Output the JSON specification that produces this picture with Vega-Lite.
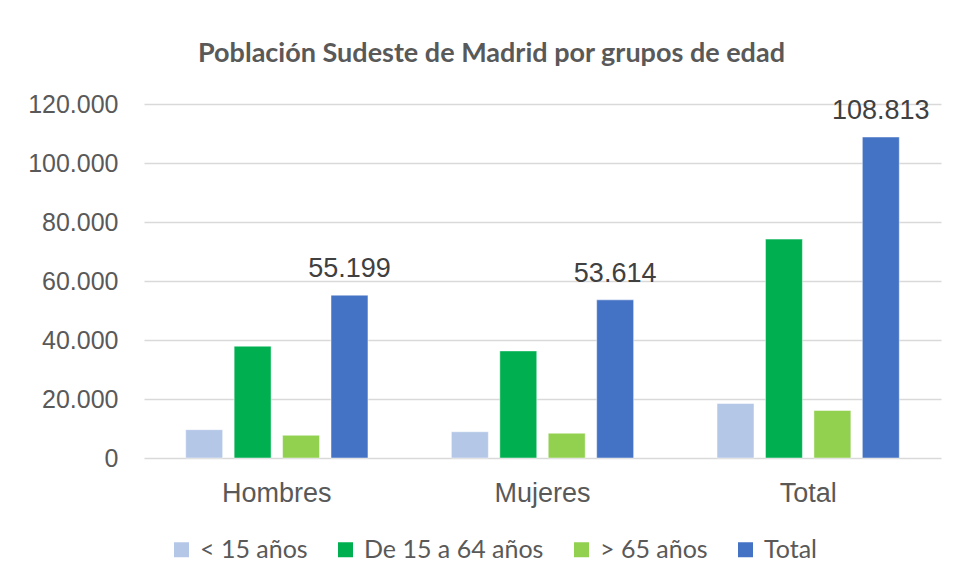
{
  "$schema": "https://vega.github.io/schema/vega-lite/v6.json",
  "width": 797,
  "height": 354,
  "autosize": {"type": "none"},
  "padding": {"left": 144, "top": 104, "right": 14, "bottom": 123},
  "background": "white",
  "config": {
    "locale": {"number": {"decimal": ",", "thousands": ".", "grouping": [3], "currency": ["", " €"]}},
    "view": {"stroke": null}
  },
  "title": {
    "text": "Población Sudeste de Madrid por grupos de edad",
    "font": "Lato",
    "fontSize": 27,
    "fontWeight": "bold",
    "color": "#595959",
    "offset": 24,
    "dx": -51,
    "anchor": "middle"
  },
  "data": {
    "values": [
      {"grupo": "Hombres", "edad": "< 15 años", "valor": 9600},
      {"grupo": "Hombres", "edad": "De 15 a 64 años", "valor": 37900},
      {"grupo": "Hombres", "edad": "> 65 años", "valor": 7700},
      {"grupo": "Hombres", "edad": "Total", "valor": 55199},
      {"grupo": "Mujeres", "edad": "< 15 años", "valor": 8900},
      {"grupo": "Mujeres", "edad": "De 15 a 64 años", "valor": 36300},
      {"grupo": "Mujeres", "edad": "> 65 años", "valor": 8400},
      {"grupo": "Mujeres", "edad": "Total", "valor": 53614},
      {"grupo": "Total", "edad": "< 15 años", "valor": 18500},
      {"grupo": "Total", "edad": "De 15 a 64 años", "valor": 74200},
      {"grupo": "Total", "edad": "> 65 años", "valor": 16100},
      {"grupo": "Total", "edad": "Total", "valor": 108813}
    ]
  },
  "encoding": {
    "x": {
      "field": "grupo",
      "type": "nominal",
      "sort": ["Hombres", "Mujeres", "Total"],
      "scale": {"paddingInner": 0, "paddingOuter": 0},
      "axis": {
        "title": null,
        "labelAngle": 0,
        "ticks": false,
        "domain": false,
        "labelFont": "Liberation Sans",
        "labelFontSize": 27,
        "labelColor": "#595959",
        "labelPadding": 22
      }
    },
    "xOffset": {
      "field": "edad",
      "type": "nominal",
      "sort": ["< 15 años", "De 15 a 64 años", "> 65 años", "Total"],
      "scale": {"paddingInner": 0.237, "paddingOuter": 0.861}
    },
    "y": {
      "field": "valor",
      "type": "quantitative",
      "scale": {"domain": [0, 120000]},
      "axis": {
        "title": null,
        "values": [0, 20000, 40000, 60000, 80000, 100000, 120000],
        "format": ",d",
        "ticks": false,
        "domain": false,
        "labelFont": "Liberation Sans",
        "labelFontSize": 25,
        "labelColor": "#595959",
        "labelPadding": 26,
        "gridColor": "#D9D9D9",
        "gridWidth": 1.3
      }
    }
  },
  "layer": [
    {
      "mark": {"type": "bar", "stroke": "white", "strokeWidth": 0.8, "strokeOpacity": 0.6},
      "encoding": {
        "color": {
          "field": "edad",
          "type": "nominal",
          "sort": ["< 15 años", "De 15 a 64 años", "> 65 años", "Total"],
          "scale": {
            "domain": ["< 15 años", "De 15 a 64 años", "> 65 años", "Total"],
            "range": ["#B4C7E7", "#00B050", "#92D050", "#4472C4"]
          },
          "legend": {
            "title": null,
            "orient": "none",
            "legendX": 25,
            "legendY": 433,
            "direction": "horizontal",
            "columns": 4,
            "symbolType": "square",
            "symbolSize": 225,
            "symbolStrokeWidth": 0,
            "labelFont": "Lato",
            "labelFontSize": 25,
            "labelColor": "#595959",
            "labelOffset": 6,
            "labelLimit": 0,
            "columnPadding": 25
          }
        }
      }
    },
    {
      "transform": [{"filter": "datum.edad == 'Total'"}],
      "mark": {
        "type": "text",
        "baseline": "alphabetic",
        "dy": -18,
        "font": "Liberation Sans",
        "fontSize": 27,
        "color": "#404040"
      },
      "encoding": {
        "text": {"field": "valor", "type": "quantitative", "format": ",d"}
      }
    }
  ]
}
